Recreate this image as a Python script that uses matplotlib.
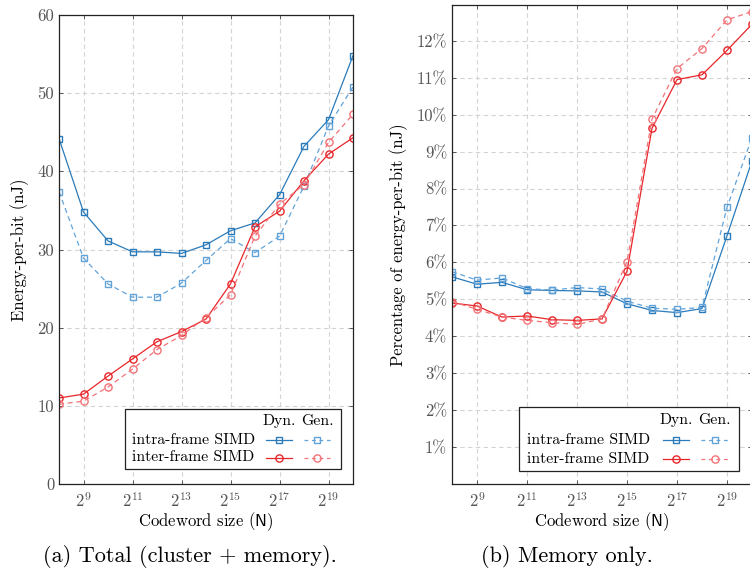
# -*- coding: utf-8 -*-

import numpy as np
import matplotlib
matplotlib.use("Agg")
import matplotlib.pyplot as plt
from matplotlib.lines import Line2D
from matplotlib.patches import Rectangle

# データ (x = log2 N)
exponents = [8, 9, 10, 11, 12, 13, 14, 15, 16, 17, 18, 19, 20]

# (a) Total (cluster + memory), nJ
total_intra_dyn = [44.2, 34.8, 31.1, 29.7, 29.7, 29.5, 30.6, 32.4, 33.4, 37.0, 43.2, 46.6, 54.8]
total_intra_gen = [37.4, 28.9, 25.6, 23.9, 23.9, 25.7, 28.6, 31.4, 29.6, 31.7, 38.1, 45.8, 50.8]
total_inter_dyn = [11.0, 11.5, 13.8, 16.0, 18.2, 19.5, 21.1, 25.6, 32.9, 34.9, 38.8, 42.2, 44.3]
total_inter_gen = [10.2, 10.6, 12.4, 14.7, 17.2, 19.0, 21.3, 24.2, 31.7, 35.8, 38.3, 43.7, 47.3]

# (b) Memory only, %
mem_intra_dyn = [5.61, 5.41, 5.46, 5.26, 5.24, 5.23, 5.20, 4.88, 4.70, 4.64, 4.75, 6.72, 8.75]
mem_intra_gen = [5.75, 5.52, 5.58, 5.29, 5.25, 5.32, 5.28, 4.95, 4.76, 4.73, 4.78, 7.49, 9.38]
mem_inter_dyn = [4.90, 4.82, 4.52, 4.55, 4.45, 4.43, 4.47, 5.76, 9.63, 10.95, 11.08, 11.74, 12.45]
mem_inter_gen = [4.94, 4.73, 4.52, 4.43, 4.37, 4.32, 4.47, 6.02, 9.88, 11.25, 11.79, 12.57, 12.79]

xtick_pos = [9, 11, 13, 15, 17, 19]
xtick_labels = [r"$2^{%d}$" % e for e in xtick_pos]
total_yticks = [0, 10, 20, 30, 40, 50, 60]
mem_yticks = [1, 2, 3, 4, 5, 6, 7, 8, 9, 10, 11, 12]

series_names = ["intra-frame SIMD", "inter-frame SIMD"]

BLUE = "#2b7bba"
BLUE_L = "#62a3d9"
RED = "#e8262a"
RED_L = "#f27378"
MS_SQ = 4.6
MS_CI = 5.2
FS = 12
FS_LEG = 11.3

plt.rcParams["font.family"] = ["cmr10", "DejaVu Serif"]
plt.rcParams["mathtext.fontset"] = "cm"
plt.rcParams["axes.unicode_minus"] = False


def style_axes(ax, yticks, ylabels):
    ax.set_xlim(exponents[0], exponents[-1])
    ax.set_xticks(xtick_pos)
    ax.set_xticklabels(xtick_labels)
    ax.set_yticks(yticks)
    ax.set_yticklabels(ylabels)
    ax.tick_params(direction="in", length=3, width=0.6, colors="#444444",
                   labelcolor="#555555", labelsize=FS, top=True, right=True)
    ax.tick_params(axis="x", pad=5)
    ax.grid(True, linestyle=(0, (4, 3)), color="#d4d4d4", linewidth=0.8)
    ax.set_axisbelow(True)
    for s in ax.spines.values():
        s.set_linewidth(0.9)
        s.set_color("#222222")
    ax.set_xlabel(r"Codeword size ($\mathsf{N}$)", fontsize=FS, labelpad=0)


def plot_series(ax, intra_dyn, intra_gen, inter_dyn, inter_gen):
    ax.plot(exponents, intra_dyn, color=BLUE, lw=0.9, marker="s", ms=MS_SQ,
            mfc="none", mew=1.0)
    ax.plot(exponents, intra_gen, color=BLUE_L, lw=0.9, ls=(0, (4, 3)),
            marker="s", ms=MS_SQ, mfc="none", mew=1.0)
    ax.plot(exponents, inter_dyn, color=RED, lw=0.9, marker="o", ms=MS_CI,
            mfc="none", mew=1.0)
    ax.plot(exponents, inter_gen, color=RED_L, lw=0.9, ls=(0, (4, 3)),
            marker="o", ms=MS_CI, mfc="none", mew=1.0)


def draw_legend(ax, x0, y0, w, h):
    """pgfplots風の表形式の凡例"""
    t = ax.transAxes
    ax.add_patch(Rectangle((x0, y0), w, h, transform=t, facecolor="white",
                           edgecolor="#222222", linewidth=0.9, zorder=5))
    dyn_x = x0 + 0.713 * w
    gen_x = x0 + 0.889 * w
    seg = 0.06 * w
    rows = [y0 + 0.80 * h, y0 + 0.48 * h, y0 + 0.19 * h]
    ax.text(dyn_x, rows[0], "Dyn.", transform=t, ha="center", va="center",
            fontsize=FS_LEG, zorder=6)
    ax.text(gen_x, rows[0], "Gen.", transform=t, ha="center", va="center",
            fontsize=FS_LEG, zorder=6)
    styles = [
        (BLUE, BLUE_L, "s", MS_SQ),
        (RED, RED_L, "o", MS_CI),
    ]
    for name, yy, (c, cl, m, ms) in zip(series_names, rows[1:], styles):
        ax.text(x0 + 0.035 * w, yy, name, transform=t, ha="left",
                va="center", fontsize=FS_LEG, zorder=6)
        ax.add_line(Line2D([dyn_x - seg, dyn_x + seg], [yy, yy], transform=t,
                           color=c, lw=0.9, zorder=6))
        ax.add_line(Line2D([dyn_x], [yy], transform=t, color=c, marker=m,
                           ms=ms, mfc="none", mew=1.0, zorder=6))
        ax.add_line(Line2D([gen_x - seg, gen_x + seg], [yy, yy], transform=t,
                           color=cl, lw=0.9, ls=(0, (3, 3)), zorder=6))
        ax.add_line(Line2D([gen_x], [yy], transform=t, color=cl, marker=m,
                           ms=ms, mfc="none", mew=1.0, zorder=6))


def main():
    fig = plt.figure(figsize=(7.5, 5.74), dpi=100)

    # (a) Total
    ax1 = fig.add_axes([59 / 750, 1 - 484 / 574, 294 / 750, 469 / 574])
    plot_series(ax1, total_intra_dyn, total_intra_gen, total_inter_dyn, total_inter_gen)
    style_axes(ax1, total_yticks, [str(v) for v in total_yticks])
    ax1.set_ylim(0, 60)
    ax1.set_ylabel("Energy-per-bit (nJ)", fontsize=FS, labelpad=6)
    draw_legend(ax1, 0.224, 0.032, 0.735, 0.128)

    # (b) Memory only
    ax2 = fig.add_axes([452 / 750, 1 - 484 / 574, 300 / 750, 479 / 574])
    plot_series(ax2, mem_intra_dyn, mem_intra_gen, mem_inter_dyn, mem_inter_gen)
    style_axes(ax2, mem_yticks, ["%d%%" % v for v in mem_yticks])
    ax2.set_ylim(0, 12.97)
    ax2.set_ylabel("Percentage of energy-per-bit (nJ)", fontsize=FS, labelpad=6)
    draw_legend(ax2, 0.223, 0.027, 0.734, 0.134)

    # キャプション
    fig.text(190 / 750, 1 - 556 / 574, "(a) Total (cluster + memory).",
             ha="center", va="center", fontsize=16)
    fig.text(567 / 750, 1 - 556 / 574, "(b) Memory only.",
             ha="center", va="center", fontsize=16)

    fig.savefig("out.png", dpi=100)


if __name__ == '__main__':
    main()
